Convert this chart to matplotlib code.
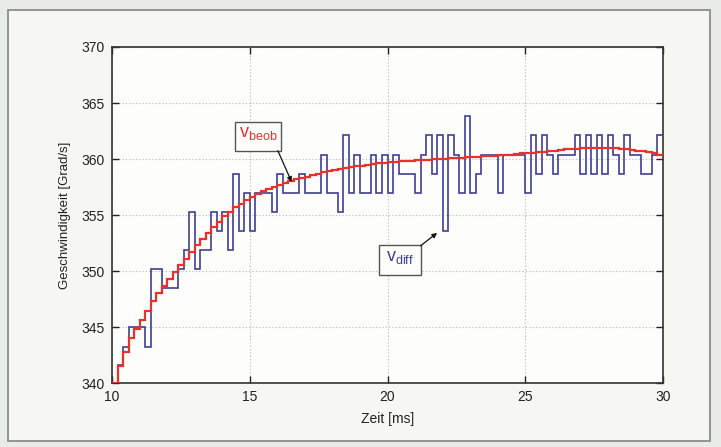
import numpy as np
import matplotlib
matplotlib.use("Agg")
import matplotlib.pyplot as plt
from matplotlib.patches import Rectangle

plt.rcParams['font.family'] = ['Liberation Sans Narrow', 'Liberation Sans', 'DejaVu Sans']
plt.rcParams['mathtext.fontset'] = 'custom'
plt.rcParams['mathtext.rm'] = 'Liberation Sans'

# ---- data ----
time_start = 10.0      # ms
sample_period = 0.2    # ms

v_diff = [340.0, 341.6, 343.2, 345.0, 345.0, 345.0, 343.2, 350.2, 350.2, 348.5,
          348.5, 348.5, 350.2, 351.9, 355.3, 350.2, 351.9, 351.9, 355.3, 353.6,
          355.3, 351.9, 358.7, 353.6, 357.0, 353.6, 357.0, 357.0, 357.0, 355.3,
          358.7, 357.0, 357.0, 357.0, 358.7, 357.0, 357.0, 357.0, 360.4, 357.0,
          357.0, 355.3, 362.1, 357.0, 360.4, 357.0, 357.0, 360.4, 357.0, 360.4,
          357.0, 360.4, 358.7, 358.7, 358.7, 357.0, 360.4, 362.1, 358.7, 362.1,
          353.6, 362.1, 360.4, 357.0, 363.8, 357.0, 358.7, 360.4, 360.4, 360.4,
          357.0, 360.4, 360.4, 360.4, 360.4, 357.0, 362.1, 358.7, 362.1, 360.4,
          358.7, 360.4, 360.4, 360.4, 362.1, 358.7, 362.1, 358.7, 362.1, 358.7,
          362.1, 360.4, 358.7, 362.1, 360.4, 360.4, 358.7, 358.7, 360.4, 362.1]

v_beob = [340.0, 341.5, 342.8, 344.0, 344.8, 345.6, 346.4, 347.3, 348.0, 348.7,
          349.3, 349.9, 350.5, 351.1, 351.7, 352.3, 352.9, 353.4, 353.9, 354.4,
          354.9, 355.3, 355.7, 356.0, 356.3, 356.6, 356.9, 357.1, 357.3, 357.5,
          357.7, 357.9, 358.0, 358.2, 358.3, 358.4, 358.6, 358.7, 358.8, 358.9,
          359.0, 359.1, 359.2, 359.3, 359.35, 359.4, 359.5, 359.55, 359.6, 359.65,
          359.7, 359.75, 359.8, 359.8, 359.85, 359.9, 359.9, 359.95, 360.0, 360.0,
          360.0, 360.05, 360.1, 360.1, 360.15, 360.2, 360.2, 360.25, 360.3, 360.3,
          360.35, 360.4, 360.4, 360.45, 360.5, 360.5, 360.55, 360.6, 360.65, 360.7,
          360.75, 360.8, 360.85, 360.9, 360.9, 360.95, 361.0, 361.0, 361.0, 361.0,
          361.0, 360.95, 360.9, 360.85, 360.8, 360.75, 360.7, 360.6, 360.5, 360.4]

x_ticks = [10, 15, 20, 25, 30]
y_ticks = [340, 345, 350, 355, 360, 365, 370]
x_label = "Zeit [ms]"
y_label = "Geschwindigkeit [Grad/s]"

# ---- figure ----
W, H = 721, 447
fig = plt.figure(figsize=(W / 100, H / 100), dpi=100)
fig.patch.set_facecolor('#e9ebe6')
frame = Rectangle((8 / W, 1 - 441 / H), (710 - 8) / W, (441 - 10) / H,
                  transform=fig.transFigure, facecolor='#f6f7f3',
                  edgecolor='#8c8c8c', lw=1.3, zorder=-10)
fig.add_artist(frame)

ax = fig.add_axes([112 / W, 1 - 383 / H, (663 - 112) / W, (383 - 47) / H])
ax.set_zorder(1)
ax.set_facecolor('#fdfdfb')

edges = time_start + sample_period * np.arange(len(v_diff) + 1)
ax.stairs(v_diff, edges, baseline=None, color='#3f3f93', lw=1.2, zorder=3)
ax.stairs(v_beob, edges, baseline=None, color='#e8312a', lw=1.6, zorder=4)

ax.set_xlim(10, 30)
ax.set_ylim(340, 370)
ax.set_xticks(x_ticks)
ax.set_yticks(y_ticks)
ax.tick_params(direction='in', top=True, right=True, length=5, width=1.0,
               labelsize=10, colors='#222222', pad=5)
for s in ax.spines.values():
    s.set_linewidth(1.2)
    s.set_color('#333333')
ax.grid(True, linestyle=(0, (1, 2)), color='#b8b8b8', lw=0.8)
ax.set_axisbelow(True)

ax.set_xlabel(x_label, fontsize=10, color='#222222', labelpad=6)
ax.set_ylabel(y_label, fontsize=9.5, color='#222222', labelpad=8)

# ---- annotations ----
def label_box(x0, x1, y0, y1, txt, color):
    ax.add_patch(Rectangle((x0, y0), x1 - x0, y1 - y0, facecolor='#fdfdfb',
                           edgecolor='#555555', lw=1.0, zorder=6))
    ax.text((x0 + x1) / 2, (y0 + y1) / 2 + 0.2, txt, color=color, fontsize=13,
            ha='center', va='center', zorder=7)

label_box(14.48, 16.14, 360.74, 363.33, r'$\mathregular{v_{beob}}$', '#e8312a')
ax.annotate('', xy=(16.52, 357.95), xytext=(16.02, 360.74),
            arrowprops=dict(arrowstyle='-|>', color='#111111', lw=0.9,
                            mutation_scale=7, shrinkA=0, shrinkB=0), zorder=8)

label_box(19.70, 21.20, 349.64, 352.32, r'$\mathregular{v_{diff}}$', '#3f3f93')
ax.annotate('', xy=(21.8, 353.4), xytext=(21.2, 352.25),
            arrowprops=dict(arrowstyle='-|>', color='#111111', lw=0.9,
                            mutation_scale=7, shrinkA=0, shrinkB=0), zorder=8)

fig.savefig('out.png', dpi=100, facecolor=fig.get_facecolor())
